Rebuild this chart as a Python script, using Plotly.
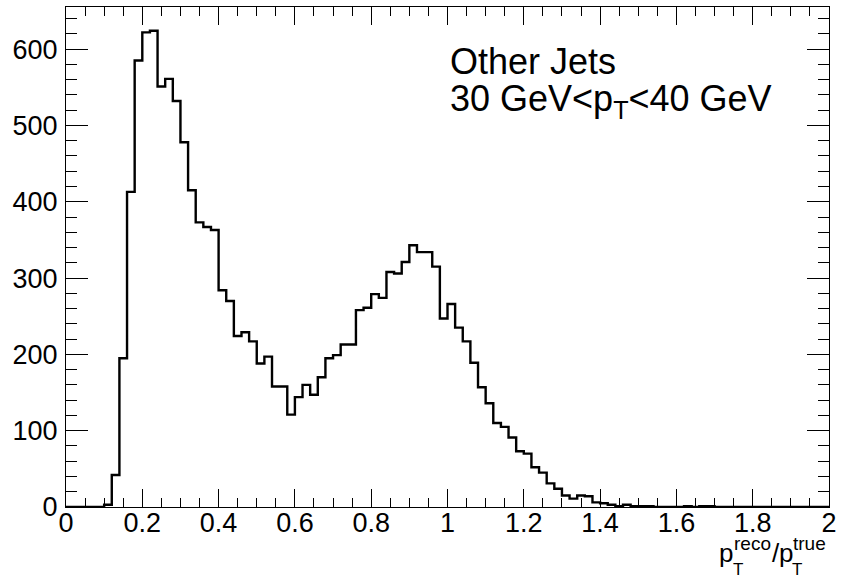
import plotly.graph_objects as go

# ---- data ----
bin_centers = [0.01 + 0.02 * i for i in range(100)]
counts = [
    0, 0, 0, 0, 0, 3, 42, 195, 413, 585,
    622, 624, 551, 561, 532, 478, 415, 373, 367, 363,
    284, 270, 224, 229, 217, 188, 197, 158, 158, 121,
    144, 160, 147, 170, 195, 199, 213, 213, 258, 261,
    279, 274, 308, 306, 321, 343, 334, 334, 315, 247,
    266, 235, 217, 189, 157, 136, 110, 105, 91, 73,
    70, 52, 45, 31, 24, 15, 11, 15, 14, 6,
    5, 3, 1, 3, 1, 1, 1, 0, 0, 0,
    0, 1, 0, 1, 1, 0, 0, 0, 0, 0,
    0, 0, 0, 0, 0, 0, 0, 0, 0, 0,
]
x_tickvals = [0, 0.2, 0.4, 0.6, 0.8, 1.0, 1.2, 1.4, 1.6, 1.8, 2.0]
x_ticktext = ["0", "0.2", "0.4", "0.6", "0.8", "1", "1.2", "1.4", "1.6", "1.8", "2"]
y_tickvals = [0, 100, 200, 300, 400, 500, 600]
y_ticktext = ["0", "100", "200", "300", "400", "500", "600"]
label_line1 = "Other Jets"
label_line2 = "30 GeV<p<sub>T</sub><40 GeV"

bin_width = 0.02
x_steps = [c - bin_width / 2 for c in bin_centers] + [bin_centers[-1] + bin_width / 2]
y_steps = counts + [counts[-1]]

W, H = 843, 579
ML, MR, MT, MB = 66, 6, 7, 72
PW, PH = W - ML - MR, H - MT - MB
FONT = "Liberation Sans, Arial, Helvetica, sans-serif"


def px(x):
    return (x - ML) / PW


def py(y):
    return (MT + PH - y) / PH


fig = go.Figure()
fig.add_trace(go.Scatter(
    x=x_steps, y=y_steps, mode="lines", line_shape="hv",
    line=dict(color="black", width=2.4), showlegend=False, hoverinfo="skip",
))

axis_common = dict(
    showgrid=False, zeroline=False, showline=True, linecolor="black", linewidth=1,
    ticks="inside", tickcolor="black", tickwidth=1, mirror="allticks",
    tickfont=dict(family=FONT, size=27, color="black"),
    ticklabeloverflow="allow",
)
fig.update_xaxes(
    range=[0, 2], tickvals=x_tickvals, ticktext=x_ticktext, ticklen=18,
    minor=dict(dtick=0.05, ticklen=9, ticks="inside", tickcolor="black", tickwidth=1),
    ticklabelstandoff=-8, **axis_common,
)
fig.update_yaxes(
    range=[0, 655.2], tickvals=y_tickvals, ticktext=y_ticktext, ticklen=22,
    minor=dict(dtick=20, ticklen=11, ticks="inside", tickcolor="black", tickwidth=1),
    ticklabelstandoff=2, **axis_common,
)

annos = [
    dict(text=label_line1, x=px(452), y=py(62), size=36),
    dict(text=label_line2, x=px(452), y=py(101), size=36),
    # axis title  p_T^reco / p_T^true  (stacked sub/superscripts)
    dict(text="p", x=px(724), y=py(553), size=26),
    dict(text="reco", x=px(739), y=py(543.5), size=19),
    dict(text="T", x=px(738), y=py(569), size=17),
    dict(text="/", x=px(777), y=py(553), size=26),
    dict(text="p", x=px(784), y=py(553), size=26),
    dict(text="true", x=px(799), y=py(543.5), size=19),
    dict(text="T", x=px(798), y=py(569), size=17),
]
for a in annos:
    fig.add_annotation(
        text=a["text"], x=a["x"], y=a["y"], xref="paper", yref="paper",
        xanchor="left", yanchor="middle", showarrow=False,
        font=dict(family=FONT, size=a["size"], color="black"),
    )

fig.update_layout(
    width=W, height=H, margin=dict(l=ML, r=MR, t=MT, b=MB),
    paper_bgcolor="white", plot_bgcolor="white",
)
fig.write_html("out.html")
